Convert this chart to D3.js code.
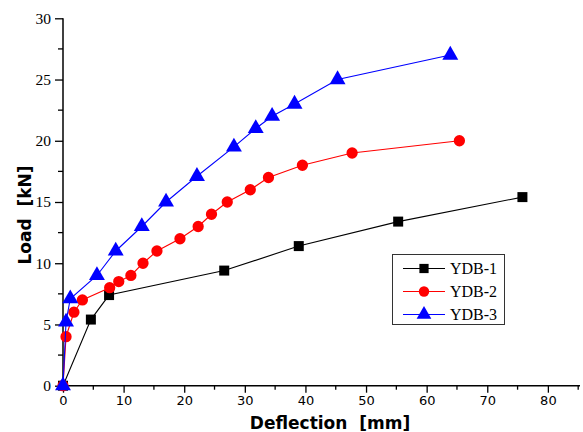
<!DOCTYPE html>
<html><head><meta charset="utf-8">
<script src="https://cdn.jsdelivr.net/npm/d3@7"></script>
<style>body{margin:0;background:#fff}svg{display:block}</style>
</head><body>
<svg id="c" width="583" height="432"></svg>
<script>
const seriesNames = ["YDB-1", "YDB-2", "YDB-3"];
const colors = ["#000000", "#ff0000", "#0000ff"];
const ydb1X = [0, 4.6, 7.6, 26.6, 38.9, 55.3, 75.8];
const ydb1Y = [0, 5.4, 7.4, 9.4, 11.4, 13.4, 15.4];
const ydb2X = [0, 0.5, 1.8, 3.2, 7.7, 9.2, 11.2, 13.2, 15.5, 19.3, 22.3, 24.5, 27.1, 30.9, 33.9, 39.5, 47.7, 65.4];
const ydb2Y = [0, 4, 6, 7, 8, 8.5, 9, 10, 11, 12, 13, 14, 15, 16, 17, 18, 19, 20];
const ydb3X = [0, 0.5, 1.2, 5.6, 8.7, 13.0, 17.0, 22.1, 28.2, 31.8, 34.5, 38.2, 45.3, 63.9];
const ydb3Y = [0, 5.2, 7.1, 9.0, 11.0, 13.0, 15.0, 17.1, 19.5, 21.0, 22.0, 23.0, 25.0, 27.0];
const xTicks = [0, 10, 20, 30, 40, 50, 60, 70, 80];
const yTicks = [0, 5, 10, 15, 20, 25, 30];
const xTitle = "Deflection  [mm]";
const yTitle = "Load  [kN]";

const svg = d3.select("#c");
const x = d3.scaleLinear().domain([0, 85.3]).range([63, 580]);
const y = d3.scaleLinear().domain([0, 30]).range([385.7, 18.3]);

const data = [
  ydb1X.map((v, i) => [v, ydb1Y[i]]),
  ydb2X.map((v, i) => [v, ydb2Y[i]]),
  ydb3X.map((v, i) => [v, ydb3Y[i]])
];
const symbols = [d3.symbolSquare, d3.symbolCircle, d3.symbolTriangle];
const symSizes = [100, 100, 110];

// axes
const xMinor = d3.range(5, 86, 10);
const yMinor = d3.range(2.5, 30, 5);
const gx = svg.append("g").attr("transform", "translate(0,385.7)");
gx.call(d3.axisBottom(x).tickValues(xTicks).tickSize(7).tickPadding(3).tickFormat(d3.format("d")));
gx.selectAll(".tick text").attr("font-family", "DejaVu Sans, Verdana, sans-serif").attr("font-size", 13).attr("fill", "#000");
gx.select(".domain").attr("d", `M${x(0)},0H${x.range()[1]}`).attr("stroke-width", 1.5);
gx.selectAll(".tick line").attr("stroke-width", 1.3);
gx.selectAll(".minor").data(xMinor).enter().append("line")
  .attr("x1", d => x(d)).attr("x2", d => x(d)).attr("y1", 0).attr("y2", 4)
  .attr("stroke", "#000").attr("stroke-width", 1.3);

const gy = svg.append("g").attr("transform", "translate(63,0)");
gy.call(d3.axisLeft(y).tickValues(yTicks).tickSize(8).tickPadding(4));
gy.selectAll(".tick text").attr("font-family", "Liberation Serif, Times New Roman, serif").attr("font-size", 15.5).attr("fill", "#000");
gy.select(".domain").attr("d", `M0,${y(30)}V${y(0)}`).attr("stroke-width", 1.5);
gy.selectAll(".tick line").attr("stroke-width", 1.3);
gy.selectAll(".minor").data(yMinor).enter().append("line")
  .attr("y1", d => y(d)).attr("y2", d => y(d)).attr("x1", 0).attr("x2", -5)
  .attr("stroke", "#000").attr("stroke-width", 1.3);

// titles
svg.append("text").attr("x", 330).attr("y", 429).attr("text-anchor", "middle")
  .attr("font-family", "DejaVu Sans, Verdana, sans-serif").attr("font-weight", "bold")
  .attr("font-size", 17).style("white-space", "pre").text(xTitle);
svg.append("text").attr("transform", "translate(31,215) rotate(-90)").attr("text-anchor", "middle")
  .attr("font-family", "DejaVu Sans, Verdana, sans-serif").attr("font-weight", "bold")
  .attr("font-size", 17).style("white-space", "pre").text(yTitle);

// series
const line = d3.line().x(d => x(d[0])).y(d => y(d[1]));
data.forEach((pts, i) => {
  const g = svg.append("g");
  g.append("path").attr("d", line(pts)).attr("fill", "none").attr("stroke", colors[i]).attr("stroke-width", 1.1);
  g.selectAll("path.m").data(pts).enter().append("path").attr("class", "m")
    .attr("d", d3.symbol().type(symbols[i]).size(symSizes[i]))
    .attr("transform", d => `translate(${x(d[0])},${y(d[1])})`)
    .attr("fill", colors[i]);
});

// legend
const lg = svg.append("g");
lg.append("rect").attr("x", 392.5).attr("y", 254.5).attr("width", 112).attr("height", 70)
  .attr("fill", "#fff").attr("stroke", "#333").attr("stroke-width", 1);
seriesNames.forEach((name, i) => {
  const yy = 268.5 + i * 23;
  lg.append("line").attr("x1", 403).attr("x2", 445).attr("y1", yy).attr("y2", yy).attr("stroke", colors[i]).attr("stroke-width", 1.1);
  lg.append("path").attr("d", d3.symbol().type(symbols[i]).size(symSizes[i] * 0.85)).attr("transform", `translate(424,${yy})`).attr("fill", colors[i]);
  lg.append("text").attr("x", 450).attr("y", yy + 5.5).attr("font-family", "Liberation Serif, Times New Roman, serif")
    .attr("font-size", 16).attr("fill", "#000").text(name);
});
</script>
</body></html>
